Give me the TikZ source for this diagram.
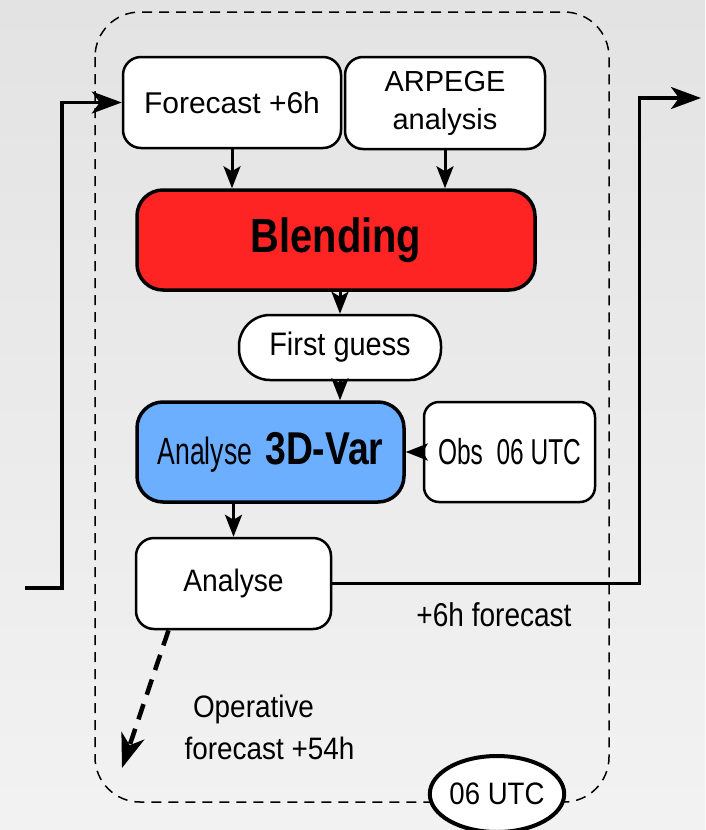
\documentclass[tikz,border=0pt]{standalone}
\usepackage{fontspec}
\setmainfont{Liberation Sans}
\usetikzlibrary{arrows.meta, shapes.geometric}

\definecolor{blendred}{RGB}{255,36,36}
\definecolor{varblue}{RGB}{108,174,255}

\newcommand{\squeezed}[2]{\scalebox{#1}[1]{#2}}

\begin{document}
\begin{tikzpicture}[x=1pt, y=-1pt,
	box/.style = {draw, fill=white, line width=2.5pt, rounded corners=18pt, inner sep=0pt},
	bigbox/.style = {box, line width=3.5pt, rounded corners=26pt},
	link/.style = {line width=3pt, -{Stealth[length=22pt, width=17pt, inset=5pt]}},
	loop/.style = {line width=3.2pt, -{Stealth[length=30pt, width=22pt, inset=8pt]}},
	note/.style = {anchor=base, inner sep=0pt, font=\fontsize{31}{36}\selectfont}]

	% Background
	
	\useasboundingbox (0, 0) rectangle (705, 830);
	\shade [top color = black!11, bottom color = black!5] (0, 0) rectangle (705, 830);
	
	% 06 UTC cycle frame
	
	\draw [line width = 1.5pt, dash pattern = on 10pt off 7pt, rounded corners = 45pt]
		(95, 12) rectangle (609, 802);
		
	% Inputs
	
	\node [box, minimum width = 218pt, minimum height = 91pt, font = \fontsize{30}{36}\selectfont]
		(fc) at (232, 102.5) {Forecast +6h};
	\node [box, minimum width = 200pt, minimum height = 92pt, align = center, font = \fontsize{29}{38}\selectfont]
		(arp) at (445, 103) {ARPEGE\\analysis};
		
	% Blending and first guess
	
	\node [bigbox, fill = blendred, minimum width = 398pt, minimum height = 100pt, font = \fontsize{48}{50}\selectfont\bfseries]
		(blend) at (336, 240) {\squeezed{0.83}{Blending}};
	\node [box, rounded corners = 31pt, minimum width = 202pt, minimum height = 65pt, font = \fontsize{32.5}{36}\selectfont]
		(fg) at (340, 347.5) {\squeezed{0.89}{First guess}};
		
	% Assimilation
	
	\node [bigbox, fill = varblue, minimum width = 267pt, minimum height = 100pt]
		(var) at (270.5, 452) {{\fontsize{38}{40}\selectfont\squeezed{0.7}{Analyse}}\hspace{13pt}{\fontsize{46}{50}\selectfont\bfseries\squeezed{0.81}{3D-Var}}};
	\node [box, rounded corners = 15pt, minimum width = 171pt, minimum height = 100pt, font = \fontsize{36}{40}\selectfont]
		(obs) at (509.5, 452) {\squeezed{0.68}{Obs\ \ 06 UTC}};
	\node [box, minimum width = 195pt, minimum height = 91pt, font = \fontsize{31}{36}\selectfont]
		(ana) at (233.5, 583.5) {\squeezed{0.91}{Analyse}};
		
	% Links inside the cycle
	
	\draw [link] (fc.south) -- (fc.south |- blend.north);
	\draw [link] (arp.south) -- (arp.south |- blend.north);
	\draw [link] (fg.north |- blend.south) -- (fg.north);
	\draw [link] (fg.south) -- (fg.south |- var.north);
	\draw [link] (obs.west) -- (var.east);
	\draw [link] (ana.north |- var.south) -- (ana.north);
	
	% Previous and next cycle
	
	\coordinate (prev) at (25, 588);
	\coordinate (next) at (701, 98);
	\draw [loop] (prev) -- ++(37, 0) |- (fc.west);
	\draw [loop] (ana.east) -- ++(307, 0) |- (next);
	\node [note, font = \fontsize{33}{36}\selectfont] (fcnote) at (494, 626) {\squeezed{0.85}{+6h forecast}};
	
	% Long range forecast
	
	\coordinate (opend) at (122, 768);
	\draw [line width = 4.5pt, dash pattern = on 16pt off 10pt, -{Stealth[length=34pt, width=24pt, inset=10pt]}]
		([xshift = -65pt] ana.south) -- (opend);
	\node [note] (op1) at (253.5, 717) {\squeezed{0.9}{Operative}};
	\node [note] (op2) at (269.5, 759) {\squeezed{0.9}{forecast +54h}};
	
	% Cycle time
	
	\node [ellipse, draw, fill = white, line width = 4pt, minimum width = 130pt, minimum height = 76pt, inner sep = 0pt, font = \fontsize{31}{36}\selectfont]
		(utc) at (497, 794) {\squeezed{0.89}{06 UTC}};

\end{tikzpicture}
\end{document}
